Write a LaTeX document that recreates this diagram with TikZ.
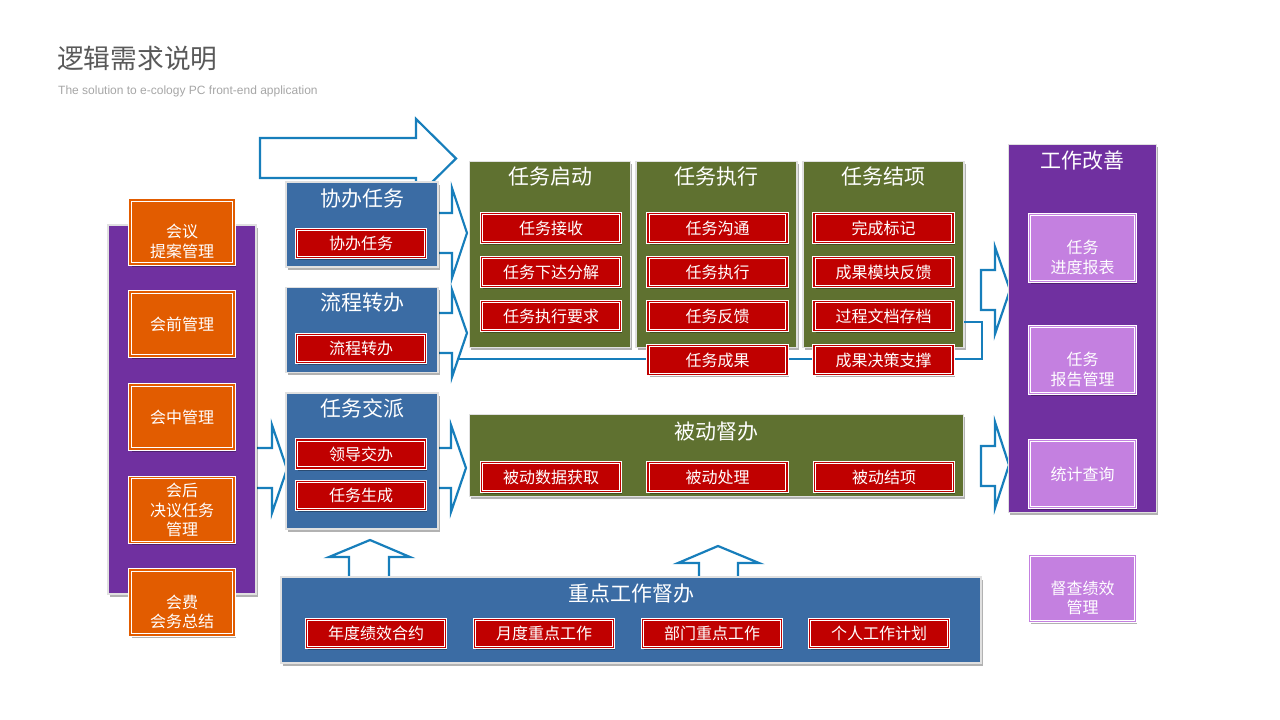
\documentclass[tikz,border=0pt]{standalone}
\usepackage{fontspec}
\setmainfont{Noto Sans CJK SC}
\newfontfamily\latinfont{Liberation Sans}
\usetikzlibrary{shadows}
\definecolor{carrow}{RGB}{23,126,187}
\definecolor{cblue}{RGB}{59,108,164}
\definecolor{cgreen}{RGB}{95,113,48}
\definecolor{corange}{RGB}{226,92,0}
\definecolor{cpurple}{RGB}{112,48,160}
\definecolor{clpurple}{RGB}{196,128,224}
\definecolor{cred}{RGB}{192,0,0}
\definecolor{ctitle}{RGB}{89,89,89}
\definecolor{csub}{RGB}{166,166,166}
\newcommand{\myitemfont}{\fontsize{16}{19.5}\selectfont}
\newcommand{\mytitlefont}{\fontsize{21}{25}\selectfont}
\begin{document}
\begin{tikzpicture}[x=1pt,y=-1pt,
  base/.style={inner sep=0pt, outer sep=0pt, text=white, align=center},
  shadowed/.style={drop shadow={shadow xshift=1.5pt, shadow yshift=-2.5pt, opacity=0.3, fill=black}},
  panelbox/.style={base, shadowed, fill=#1, draw=black!12, line width=1.8pt},
  itembox/.style={base, shadowed, fill=#1, draw=white, line width=0.8pt, double=#1, double distance=1.8pt, font=\myitemfont},
  itemtext/.style={base, font=\myitemfont},
  paneltitle/.style={base, font=\mytitlefont},
  blockarrow/.style={draw=carrow, fill=white, line width=2.2pt, line join=miter},
  fbline/.style={draw=carrow, line width=2.2pt},
]
\useasboundingbox (0,0) rectangle (1280,720);

% heading
\node[anchor=west, inner sep=0pt, text=ctitle, font=\fontsize{26.7}{30}\selectfont] (title) at (57,58.5) {逻辑需求说明};
\node[anchor=west, inner sep=0pt, text=csub, font=\latinfont\fontsize{12}{14}\selectfont] (subtitle) at (58,91) {The solution to e-cology PC front-end application};

% block arrows (behind the panels)
\draw[blockarrow] (260,138) -- (416,138) -- (416,119) -- (456,158.5) -- (416,198) -- (416,178) -- (260,178) -- cycle;
\draw[blockarrow] (430,213) -- (452,213) -- (452,188) -- (467,233) -- (452,278) -- (452,253) -- (430,253) -- cycle;
\draw[blockarrow] (430,313) -- (452,313) -- (452,290) -- (467,333) -- (452,377) -- (452,353) -- (430,353) -- cycle;
\draw[blockarrow] (430,448) -- (451,448) -- (451,425) -- (466,468) -- (451,512) -- (451,488) -- (430,488) -- cycle;
\draw[blockarrow] (250,448) -- (272,448) -- (272,425) -- (287,469) -- (272,513) -- (272,488) -- (250,488) -- cycle;
\draw[blockarrow] (981,270) -- (995,270) -- (995,247) -- (1010,290) -- (995,334) -- (995,310) -- (981,310) -- cycle;
\draw[blockarrow] (981,446) -- (995,446) -- (995,422) -- (1009,465) -- (995,508) -- (995,486) -- (981,486) -- cycle;
\draw[blockarrow] (349,582) -- (349,557) -- (329,557) -- (370,540) -- (410,557) -- (389,557) -- (389,582) -- cycle;
\draw[blockarrow] (699,582) -- (699,563) -- (678,563) -- (718,546) -- (759,563) -- (738,563) -- (738,582) -- cycle;

% panels
\node[panelbox=cpurple, minimum width=148, minimum height=369] (mtg) at (182,409.5) {};
\node[panelbox=cblue, minimum width=152, minimum height=85] (xb) at (362,224.5) {};
\node[panelbox=cblue, minimum width=152, minimum height=85] (lz) at (362,330) {};
\node[panelbox=cblue, minimum width=152, minimum height=136] (rw) at (362,461) {};
\node[panelbox=cgreen, minimum width=161, minimum height=186] (qd) at (550,254.5) {};
\node[panelbox=cgreen, minimum width=161, minimum height=186] (zx) at (716.5,254.5) {};
\node[panelbox=cgreen, minimum width=161, minimum height=186] (jx) at (883.5,254.5) {};
\node[panelbox=cgreen, minimum width=494, minimum height=82] (bd) at (716.5,455.5) {};
\node[panelbox=cpurple, minimum width=148, minimum height=368] (gz) at (1082.5,328.5) {};
\node[panelbox=cblue, minimum width=700, minimum height=86] (zd) at (631,620) {};

% feedback line
\coordinate (fbcorner) at (982,322);
\coordinate (fbdown) at (982,359);
\coordinate (fbend) at (458.3,359);
\draw[fbline] (jx.east |- fbcorner) -- (fbcorner) -- (fbdown) -- (fbend);

% panel titles
\node[paneltitle] (xbt) at (362,199) {协办任务};
\node[paneltitle] (lzt) at (362,303) {流程转办};
\node[paneltitle] (rwt) at (362,408) {任务交派};
\node[paneltitle] (qdt) at (550,177) {任务启动};
\node[paneltitle] (zxt) at (716.5,177) {任务执行};
\node[paneltitle] (jxt) at (883.5,177) {任务结项};
\node[paneltitle] (bdt) at (716.5,432) {被动督办};
\node[paneltitle] (gzt) at (1082.5,161) {工作改善};
\node[paneltitle] (zdt) at (631,594) {重点工作督办};

% meeting boxes
\node[itembox=corange, minimum width=104, minimum height=64] (o1) at (182,232) {};
\node[itemtext] (o1t) at ([yshift=-9.5pt]o1.center) {会议\\提案管理};
\node[itembox=corange, minimum width=104, minimum height=64] (o2) at (182,324) {会前管理};
\node[itembox=corange, minimum width=104, minimum height=64] (o3) at (182,417) {会中管理};
\node[itembox=corange, minimum width=104, minimum height=65] (o4) at (182,510) {会后\\决议任务\\管理};
\node[itembox=corange, minimum width=104, minimum height=65] (o5) at (182,602.5) {};
\node[itemtext] (o5t) at ([yshift=-9.5pt]o5.center) {会费\\会务总结};

% blue panel items
\node[itembox=cred, minimum width=129, minimum height=28] (xbr) at (361,243.5) {协办任务};
\node[itembox=cred, minimum width=129, minimum height=28] (lzr) at (361,348.5) {流程转办};
\node[itembox=cred, minimum width=129, minimum height=28] (ld) at (361,454) {领导交办};
\node[itembox=cred, minimum width=129, minimum height=28] (rs) at (361,495.5) {任务生成};

% green panel items
\node[itembox=cred, minimum width=139, minimum height=29] (q1) at (551,228) {任务接收};
\node[itembox=cred, minimum width=139, minimum height=29] (q2) at (551,272) {任务下达分解};
\node[itembox=cred, minimum width=139, minimum height=29] (q3) at (551,316) {任务执行要求};
\node[itembox=cred, minimum width=139, minimum height=29] (z1) at (717.5,228) {任务沟通};
\node[itembox=cred, minimum width=139, minimum height=29] (z2) at (717.5,272) {任务执行};
\node[itembox=cred, minimum width=139, minimum height=29] (z3) at (717.5,316) {任务反馈};
\node[itembox=cred, minimum width=139, minimum height=29] (z4) at (717.5,360) {任务成果};
\node[itembox=cred, minimum width=139, minimum height=29] (j1) at (883.5,228) {完成标记};
\node[itembox=cred, minimum width=139, minimum height=29] (j2) at (883.5,272) {成果模块反馈};
\node[itembox=cred, minimum width=139, minimum height=29] (j3) at (883.5,316) {过程文档存档};
\node[itembox=cred, minimum width=139, minimum height=29] (j4) at (883.5,360) {成果决策支撑};
\node[itembox=cred, minimum width=139, minimum height=29] (b1) at (551,477) {被动数据获取};
\node[itembox=cred, minimum width=139, minimum height=29] (b2) at (717.5,477) {被动处理};
\node[itembox=cred, minimum width=139, minimum height=29] (b3) at (884,477) {被动结项};

% improvement boxes
\node[itembox=clpurple, minimum width=106, minimum height=67] (g1) at (1082.5,248) {};
\node[itemtext] (g1t) at ([yshift=-9.5pt]g1.center) {任务\\进度报表};
\node[itembox=clpurple, minimum width=106, minimum height=67] (g2) at (1082.5,360) {};
\node[itemtext] (g2t) at ([yshift=-9.5pt]g2.center) {任务\\报告管理};
\node[itembox=clpurple, minimum width=106, minimum height=67] (g3) at (1082.5,474) {统计查询};
\node[itembox=clpurple, minimum width=106, minimum height=66] (dc) at (1082.5,588.5) {};
\node[itemtext] (dct) at ([yshift=-9.5pt]dc.center) {督查绩效\\管理};

% key work items
\node[itembox=cred, minimum width=139, minimum height=28] (k1) at (376,633.5) {年度绩效合约};
\node[itembox=cred, minimum width=139, minimum height=28] (k2) at (544,633.5) {月度重点工作};
\node[itembox=cred, minimum width=139, minimum height=28] (k3) at (712,633.5) {部门重点工作};
\node[itembox=cred, minimum width=139, minimum height=28] (k4) at (879,633.5) {个人工作计划};
\end{tikzpicture}
\end{document}
